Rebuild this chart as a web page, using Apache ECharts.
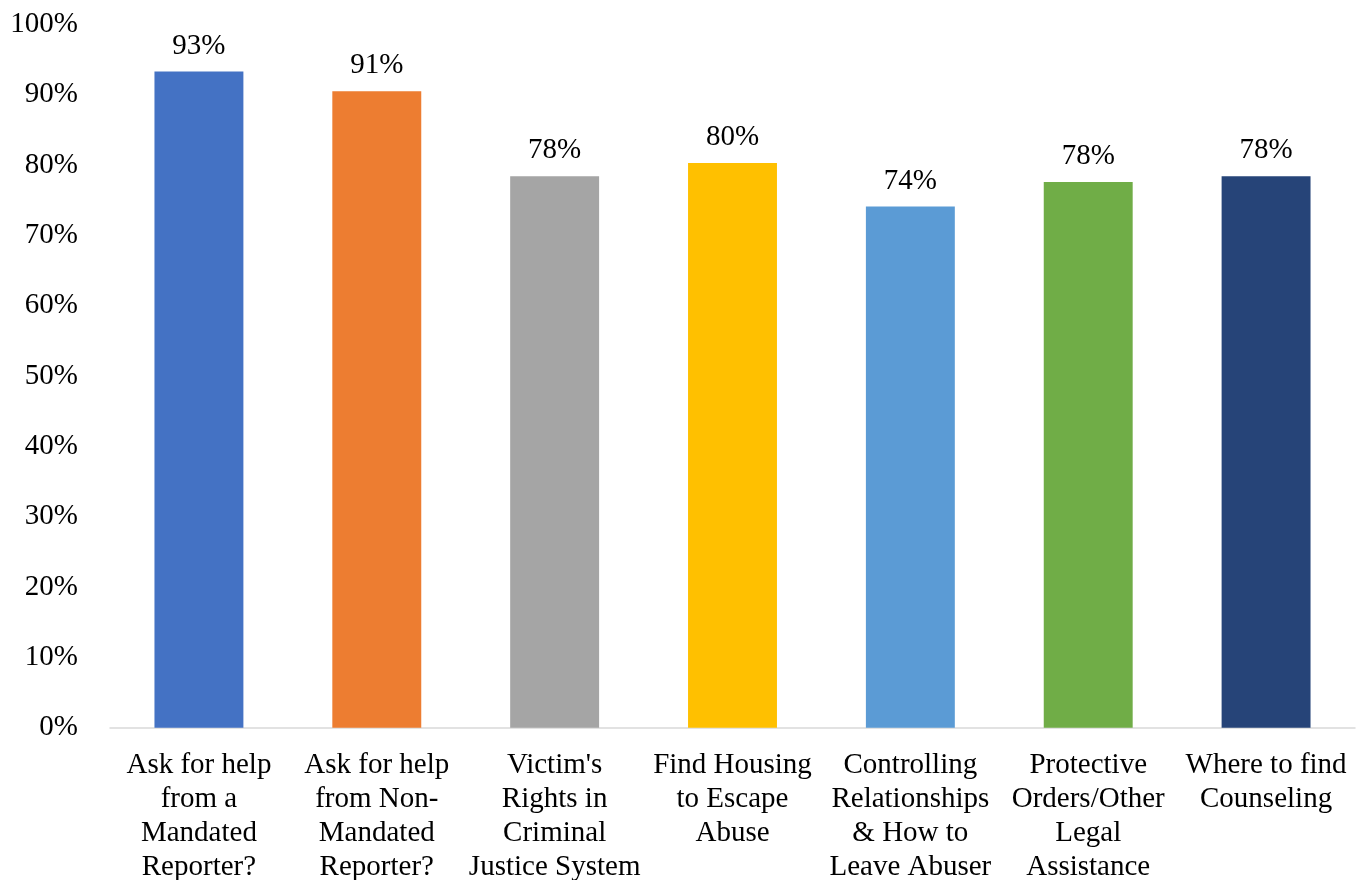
<!DOCTYPE html>
<html>
<head>
<meta charset="utf-8">
<script src="https://cdn.jsdelivr.net/npm/echarts@6/dist/echarts.min.js"></script>
<style>
html,body{margin:0;padding:0;background:#fff;}
#chart{width:1361px;height:880px;}
</style>
</head>
<body>
<div id="chart"></div>
<script>
const categories = [
  "Ask for help\nfrom a\nMandated\nReporter?",
  "Ask for help\nfrom Non-\nMandated\nReporter?",
  "Victim's\nRights in\nCriminal\nJustice System",
  "Find Housing\nto Escape\nAbuse",
  "Controlling\nRelationships\n& How to\nLeave Abuser",
  "Protective\nOrders/Other\nLegal\nAssistance",
  "Where to find\nCounseling"
];
const values = [93.3, 90.5, 78.4, 80.3, 74.1, 77.6, 78.4];
const barColors = ["#4472C4", "#ED7D31", "#A5A5A5", "#FFC000", "#5B9BD5", "#70AD47", "#264478"];
const yTicks = [0, 10, 20, 30, 40, 50, 60, 70, 80, 90, 100];

const font = "'Liberation Serif', 'Times New Roman', serif";
const chart = echarts.init(document.getElementById('chart'), null, {renderer: 'canvas'});
chart.setOption({
  animation: false,
  backgroundColor: '#ffffff',
  grid: {left: 110, right: 6, top: 24.3, bottom: 152.2, containLabel: false, outerBoundsMode: 'none'},
  xAxis: {
    type: 'category',
    data: categories,
    axisLine: {show: true, lineStyle: {color: '#d9d9d9', width: 1.5}},
    axisTick: {show: false},
    axisLabel: {
      interval: 0,
      margin: 20,
      color: '#000',
      fontFamily: font,
      fontSize: 29,
      lineHeight: 34.3
    }
  },
  yAxis: {
    type: 'value',
    min: yTicks[0],
    max: yTicks[yTicks.length - 1],
    interval: 10,
    splitLine: {show: false},
    axisLine: {show: false},
    axisTick: {show: false},
    axisLabel: {
      margin: 32,
      padding: [7, 0, 0, 0],
      color: '#000',
      fontFamily: font,
      fontSize: 29,
      formatter: v => v + '%'
    }
  },
  series: [{
    type: 'bar',
    barWidth: '50%',
    data: values.map((v, i) => ({value: v, itemStyle: {color: barColors[i]}})),
    label: {
      show: true,
      position: 'top',
      distance: 11,
      color: '#000',
      fontFamily: font,
      fontSize: 29,
      formatter: p => Math.round(p.value) + '%'
    }
  }]
});
</script>
</body>
</html>
